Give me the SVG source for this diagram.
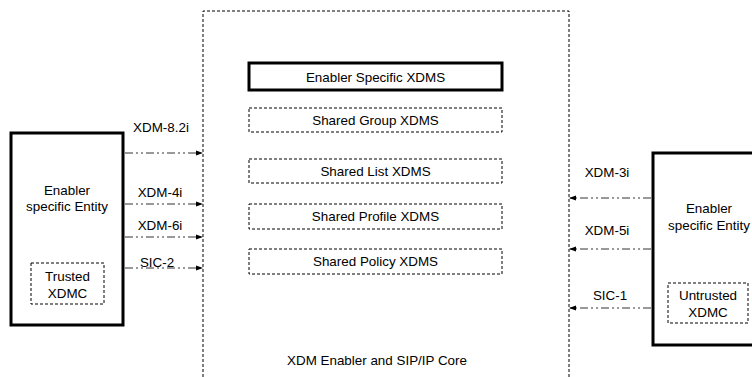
<svg xmlns="http://www.w3.org/2000/svg" width="752" height="377" viewBox="0 0 752 377">
<style>
text{font-family:"Liberation Sans",Arial,sans-serif;font-size:13.4px;fill:#000;text-anchor:middle;dominant-baseline:central}
.thick{fill:#fff;stroke:#000;stroke-width:3}
.dash{fill:#fff;stroke:#000;stroke-width:1;stroke-dasharray:3,2}
.cont{fill:none;stroke:#000;stroke-width:1;stroke-dasharray:3,2}
.conn{fill:none;stroke:#333;stroke-width:1;stroke-dasharray:8,3,2,3,2,3}
</style>
<defs>
<marker id="ah" markerWidth="7" markerHeight="6" refX="7" refY="3" orient="auto" markerUnits="userSpaceOnUse">
<path d="M0,0.5 L7,3 L0,5.5 z" fill="#000"/>
</marker>
</defs>
<g id="core">
<path class="cont" d="M203,377 V11 H569 V377"/>
<text x="377" y="360">XDM Enabler and SIP/IP Core</text>
</g>
<g id="enabler-xdms">
<rect class="thick" x="249" y="63" width="253" height="27"/>
<text x="375.5" y="77">Enabler Specific XDMS</text>
</g>
<g id="group-xdms">
<rect class="dash" x="249" y="108" width="253" height="24"/>
<text x="375.5" y="120">Shared Group XDMS</text>
</g>
<g id="list-xdms">
<rect class="dash" x="249" y="159" width="253" height="24"/>
<text x="375.5" y="171">Shared List XDMS</text>
</g>
<g id="profile-xdms">
<rect class="dash" x="249" y="204" width="253" height="25"/>
<text x="375.5" y="216.5">Shared Profile XDMS</text>
</g>
<g id="policy-xdms">
<rect class="dash" x="249" y="249" width="253" height="25"/>
<text x="375.5" y="261.5">Shared Policy XDMS</text>
</g>
<g id="left-entity">
<rect class="thick" x="11" y="133" width="112" height="192"/>
<text x="67" y="190">Enabler</text>
<text x="67" y="206">specific Entity</text>
</g>
<g id="trusted-xdmc">
<rect class="dash" x="31" y="263" width="73" height="41"/>
<text x="67.5" y="276">Trusted</text>
<text x="67.5" y="293">XDMC</text>
</g>
<g id="right-entity">
<rect class="thick" x="653" y="153" width="112" height="192"/>
<text x="709" y="208">Enabler</text>
<text x="709" y="225">specific Entity</text>
</g>
<g id="untrusted-xdmc">
<rect class="dash" x="668" y="283" width="80" height="40"/>
<text x="708" y="295">Untrusted</text>
<text x="708" y="312">XDMC</text>
</g>
<g id="connectors">
<line class="conn" x1="125" y1="153" x2="203" y2="153" marker-end="url(#ah)"/>
<line class="conn" x1="125" y1="204" x2="203" y2="204" marker-end="url(#ah)"/>
<line class="conn" x1="125" y1="237" x2="203" y2="237" marker-end="url(#ah)"/>
<line class="conn" x1="125" y1="268" x2="203" y2="268" marker-end="url(#ah)"/>
<line class="conn" x1="651" y1="198" x2="569" y2="198" marker-end="url(#ah)"/>
<line class="conn" x1="651" y1="249" x2="569" y2="249" marker-end="url(#ah)"/>
<line class="conn" x1="651" y1="308" x2="569" y2="308" marker-end="url(#ah)"/>
<text x="161" y="127">XDM-8.2i</text>
<text x="160" y="192">XDM-4i</text>
<text x="160" y="225">XDM-6i</text>
<text x="157" y="262">SIC-2</text>
<text x="607" y="172">XDM-3i</text>
<text x="607" y="230">XDM-5i</text>
<text x="610" y="295">SIC-1</text>
</g>
</svg>
